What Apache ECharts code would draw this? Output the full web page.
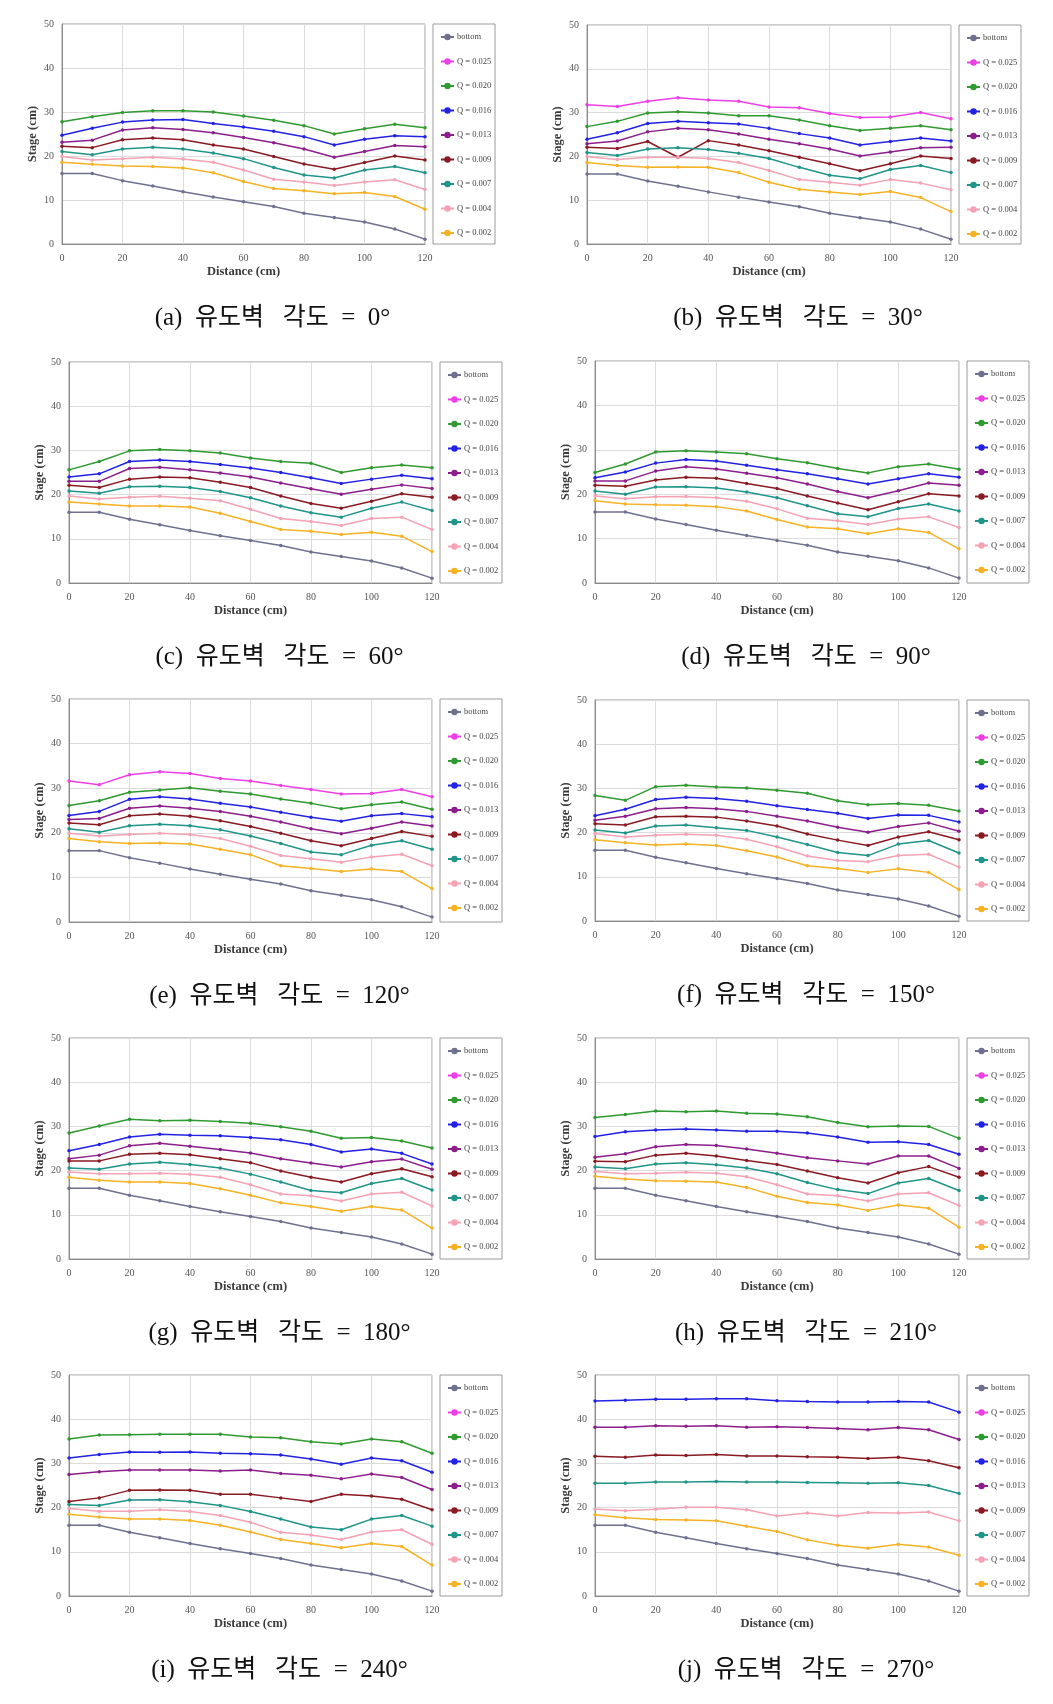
<!DOCTYPE html>
<html><head><meta charset="utf-8">
<script src="https://cdn.jsdelivr.net/npm/echarts@6/dist/echarts.min.js"></script>
<style>html,body{margin:0;padding:0;background:#fff}#c{width:1053px;height:1704px}</style>
</head><body><div id="c"></div>
<script>
// ---------- data ----------
const distance = [0,10,20,30,40,50,60,70,80,90,100,110,120];
const xTicks = [0,20,40,60,80,100,120];
const yTicks = [0,10,20,30,40,50];
const seriesNames = ['bottom','Q = 0.025','Q = 0.020','Q = 0.016','Q = 0.013','Q = 0.009','Q = 0.007','Q = 0.004','Q = 0.002'];
const captions = ['(a)  유도벽   각도  =  0°','(b)  유도벽   각도  =  30°','(c)  유도벽   각도  =  60°','(d)  유도벽   각도  =  90°','(e)  유도벽   각도  =  120°','(f)  유도벽   각도  =  150°','(g)  유도벽   각도  =  180°','(h)  유도벽   각도  =  210°','(i)  유도벽   각도  =  240°','(j)  유도벽   각도  =  270°'];

const bottom = [16,16,14.4,13.2,11.9,10.7,9.6,8.5,7.0,6.0,5.0,3.4,1.1];

// (a) 0°
const a_q025 = null;
const a_q020 = [27.8,28.9,29.9,30.3,30.3,30.0,29.1,28.1,26.9,25.0,26.2,27.2,26.4];
const a_q016 = [24.7,26.3,27.7,28.2,28.3,27.4,26.6,25.6,24.4,22.5,23.8,24.6,24.4];
const a_q013 = [23.1,23.6,25.9,26.4,26.0,25.3,24.2,23.0,21.6,19.7,21.0,22.4,22.1];
const a_q009 = [22.2,21.9,23.7,24.1,23.7,22.5,21.6,19.9,18.2,17.0,18.5,20.0,19.1];
const a_q007 = [21.0,20.3,21.6,22.0,21.6,20.7,19.4,17.4,15.7,15.0,16.8,17.6,16.2];
const a_q004 = [19.9,19.1,19.4,19.7,19.3,18.6,16.8,14.7,14.1,13.3,14.1,14.6,12.4];
const a_q002 = [18.6,18.1,17.7,17.6,17.3,16.2,14.2,12.6,12.1,11.4,11.7,10.8,7.9];
// (b) 30°
const b_q025 = [31.8,31.4,32.6,33.4,32.9,32.6,31.3,31.1,29.8,28.9,29.0,30.0,28.6];
const b_q020 = [26.8,28.0,29.9,30.2,29.9,29.3,29.3,28.3,27.0,25.9,26.4,27.0,26.1];
const b_q016 = [23.9,25.4,27.5,28.0,27.7,27.4,26.4,25.2,24.2,22.6,23.4,24.2,23.5];
const b_q013 = [22.9,23.5,25.6,26.4,26.1,25.1,23.9,22.9,21.7,20.1,21.0,22.0,22.1];
const b_q009 = [22.1,21.8,23.4,19.8,23.6,22.6,21.3,19.8,18.3,16.7,18.3,20.1,19.5];
const b_q007 = [20.9,20.2,21.7,22.0,21.6,20.7,19.5,17.5,15.7,14.9,17.0,17.9,16.3];
const b_q004 = [19.9,19.3,19.8,19.8,19.5,18.6,16.8,14.7,14.1,13.4,14.7,13.9,12.4];
const b_q002 = [18.6,17.9,17.5,17.6,17.5,16.3,14.1,12.5,11.9,11.3,12.0,10.6,7.4];
// (c) 60°
const c_q025 = null;
const c_q020 = [25.6,27.5,29.9,30.2,29.9,29.4,28.3,27.5,27.1,25.0,26.1,26.7,26.1];
const c_q016 = [24.0,24.7,27.5,27.8,27.5,26.8,26.0,25.0,23.8,22.5,23.5,24.4,23.6];
const c_q013 = [23.0,23.0,25.9,26.2,25.6,24.9,24.0,22.6,21.3,20.1,21.2,22.2,21.4];
const c_q009 = [22.1,21.6,23.5,24.0,23.8,22.8,21.6,19.7,18.0,16.9,18.5,20.2,19.4];
const c_q007 = [20.8,20.3,21.8,21.9,21.6,20.7,19.3,17.4,15.9,14.9,16.9,18.3,16.4];
const c_q004 = [19.7,19.0,19.4,19.6,19.2,18.6,16.7,14.6,13.9,13.0,14.6,14.9,12.1];
const c_q002 = [18.3,17.9,17.4,17.4,17.2,15.8,13.9,12.1,11.7,11.0,11.5,10.6,7.1];
// (d) 90°
const d_q025 = null;
const d_q020 = [24.9,26.8,29.5,29.8,29.5,29.1,28.0,27.1,25.8,24.8,26.2,26.8,25.6];
const d_q016 = [23.7,25.0,27.0,27.8,27.5,26.5,25.5,24.6,23.5,22.3,23.5,24.6,23.8];
const d_q013 = [23.0,23.0,25.2,26.2,25.7,24.7,23.7,22.3,20.6,19.2,20.8,22.5,22.0];
const d_q009 = [22.0,21.8,23.2,23.8,23.6,22.4,21.3,19.6,18.0,16.5,18.3,20.1,19.6];
const d_q007 = [20.7,20.0,21.6,21.7,21.4,20.5,19.2,17.4,15.6,14.9,16.8,17.8,16.2];
const d_q004 = [19.6,19.0,19.4,19.5,19.2,18.4,16.7,14.6,14.0,13.2,14.4,14.9,12.5];
const d_q002 = [18.5,17.8,17.6,17.5,17.2,16.2,14.3,12.6,12.2,11.1,12.2,11.4,7.7];
// (e) 120°
const e_q025 = [31.6,30.8,33.0,33.7,33.3,32.2,31.6,30.6,29.7,28.7,28.8,29.7,28.1];
const e_q020 = [26.1,27.2,29.1,29.6,30.1,29.3,28.7,27.6,26.6,25.4,26.3,26.9,25.3];
const e_q016 = [23.9,24.8,27.5,28.1,27.6,26.6,25.8,24.6,23.5,22.6,23.8,24.3,23.6];
const e_q013 = [23.0,23.2,25.5,26.0,25.5,24.8,23.7,22.4,20.9,19.8,21.0,22.4,21.5];
const e_q009 = [22.2,21.8,23.8,24.2,23.7,22.7,21.4,19.9,18.2,17.1,18.7,20.3,19.2];
const e_q007 = [20.9,20.1,21.6,21.9,21.6,20.7,19.3,17.6,15.7,15.1,17.2,18.2,16.3];
const e_q004 = [19.9,19.3,19.6,19.9,19.6,18.7,17.0,14.9,14.2,13.4,14.6,15.2,12.6];
const e_q002 = [18.7,18.0,17.6,17.7,17.5,16.3,15.1,12.6,12.0,11.3,11.9,11.3,7.5];
// (f) 150°
const f_q025 = null;
const f_q020 = [28.4,27.3,30.4,30.7,30.3,30.1,29.6,28.9,27.2,26.3,26.6,26.2,24.9];
const f_q016 = [23.8,25.3,27.5,28.0,27.7,27.1,26.1,25.2,24.4,23.2,24.0,23.9,22.4];
const f_q013 = [22.8,23.7,25.4,25.7,25.4,24.8,23.7,22.6,21.2,20.1,21.4,22.2,20.3];
const f_q009 = [22.0,21.7,23.6,23.7,23.5,22.6,21.5,19.7,18.3,17.1,19.0,20.2,18.4];
const f_q007 = [20.6,19.9,21.5,21.7,21.1,20.5,19.0,17.3,15.5,14.8,17.4,18.2,15.4];
const f_q004 = [19.8,19.0,19.4,19.6,19.4,18.5,16.8,14.7,13.7,13.4,14.8,15.1,12.2];
const f_q002 = [18.4,17.7,17.2,17.4,17.1,15.9,14.5,12.5,11.9,11.0,11.8,11.0,7.1];
// (g) 180°
const g_q025 = null;
const g_q020 = [28.5,30.1,31.6,31.3,31.4,31.1,30.7,29.9,28.9,27.3,27.5,26.7,25.1];
const g_q016 = [24.5,25.9,27.6,28.2,28.0,27.9,27.5,27.0,25.9,24.2,24.9,23.9,21.5];
const g_q013 = [22.7,23.5,25.6,26.2,25.5,24.8,24.0,22.7,21.7,20.8,22.0,22.6,20.3];
const g_q009 = [22.2,22.2,23.7,23.9,23.6,22.7,21.8,19.9,18.5,17.4,19.3,20.4,18.6];
const g_q007 = [20.6,20.3,21.5,21.9,21.4,20.6,19.2,17.4,15.5,15.0,17.1,18.2,15.6];
const g_q004 = [19.7,19.3,19.3,19.4,19.2,18.5,16.8,14.7,14.3,13.1,14.7,15.1,12.0];
const g_q002 = [18.5,17.8,17.4,17.4,17.1,15.9,14.4,12.7,11.9,10.8,11.9,11.1,7.0];
// (h) 210°
const h_q025 = null;
const h_q020 = [32.0,32.7,33.5,33.3,33.5,33.0,32.8,32.2,30.9,29.9,30.1,30.0,27.3];
const h_q016 = [27.7,28.8,29.2,29.4,29.2,28.9,28.9,28.5,27.6,26.4,26.5,25.9,23.7];
const h_q013 = [23.0,23.8,25.4,25.9,25.7,24.9,23.9,22.9,22.2,21.5,23.3,23.3,20.5];
const h_q009 = [22.1,22.0,23.5,23.9,23.3,22.3,21.4,19.9,18.4,17.2,19.5,20.9,18.5];
const h_q007 = [20.8,20.4,21.5,21.8,21.3,20.6,19.3,17.3,15.7,14.8,17.2,18.2,15.5];
const h_q004 = [19.8,19.3,19.4,19.6,19.4,18.6,16.8,14.7,14.3,13.1,14.7,15.0,12.1];
const h_q002 = [18.7,18.1,17.7,17.6,17.4,16.2,14.2,12.8,12.2,11.0,12.2,11.5,7.2];
// (i) 240°
const i_q025 = null;
const i_q020 = [35.5,36.4,36.5,36.6,36.6,36.6,36.0,35.8,34.9,34.4,35.5,34.9,32.3];
const i_q016 = [31.2,32.0,32.6,32.5,32.6,32.3,32.2,31.9,31.0,29.8,31.2,30.6,28.0];
const i_q013 = [27.5,28.1,28.5,28.5,28.5,28.3,28.5,27.7,27.3,26.5,27.6,26.8,24.1];
const i_q009 = [21.4,22.2,23.9,24.0,23.9,23.0,23.0,22.2,21.4,23.0,22.6,21.9,19.5];
const i_q007 = [20.7,20.5,21.7,21.8,21.3,20.5,19.1,17.4,15.6,15.0,17.4,18.2,15.8];
const i_q004 = [19.8,19.2,19.2,19.5,19.1,18.2,16.7,14.4,13.8,12.8,14.5,15.0,11.7];
const i_q002 = [18.5,17.9,17.4,17.4,17.1,16.0,14.5,12.8,11.9,10.9,11.9,11.2,7.0];
// (j) 270°
const j_q025 = null;
const j_q020 = null;
const j_q016 = [44.1,44.3,44.5,44.5,44.6,44.6,44.2,44.0,43.9,43.9,44.0,43.9,41.6];
const j_q013 = [38.2,38.2,38.5,38.4,38.5,38.2,38.3,38.1,37.9,37.6,38.1,37.6,35.4];
const j_q009 = [31.6,31.4,31.9,31.8,32.0,31.7,31.7,31.5,31.4,31.1,31.4,30.6,29.0];
const j_q007 = [25.5,25.5,25.8,25.8,25.9,25.8,25.8,25.7,25.6,25.5,25.6,25.0,23.2];
const j_q004 = [19.7,19.3,19.6,20.1,20.1,19.5,18.1,18.8,18.1,18.9,18.8,19.0,17.0];
const j_q002 = [18.4,17.7,17.3,17.2,17.0,15.8,14.6,12.7,11.5,10.8,11.7,11.1,9.2];

const panels = [
  [bottom,a_q025,a_q020,a_q016,a_q013,a_q009,a_q007,a_q004,a_q002],
  [bottom,b_q025,b_q020,b_q016,b_q013,b_q009,b_q007,b_q004,b_q002],
  [bottom,c_q025,c_q020,c_q016,c_q013,c_q009,c_q007,c_q004,c_q002],
  [bottom,d_q025,d_q020,d_q016,d_q013,d_q009,d_q007,d_q004,d_q002],
  [bottom,e_q025,e_q020,e_q016,e_q013,e_q009,e_q007,e_q004,e_q002],
  [bottom,f_q025,f_q020,f_q016,f_q013,f_q009,f_q007,f_q004,f_q002],
  [bottom,g_q025,g_q020,g_q016,g_q013,g_q009,g_q007,g_q004,g_q002],
  [bottom,h_q025,h_q020,h_q016,h_q013,h_q009,h_q007,h_q004,h_q002],
  [bottom,i_q025,i_q020,i_q016,i_q013,i_q009,i_q007,i_q004,i_q002],
  [bottom,j_q025,j_q020,j_q016,j_q013,j_q009,j_q007,j_q004,j_q002]
];

// ---------- styling / layout ----------
const colors = ['#6f6f90','#ee3ee6','#2f9a30','#2222e4','#8c1e8c','#8a1a22','#1f9488','#f4a2b4','#f5b224'];
const layouts = [
  {l:62, r:425, t:24, b:244},
  {l:587,r:951, t:25, b:244},
  {l:69, r:432, t:362, b:583},
  {l:595,r:959, t:361, b:583},
  {l:69, r:432, t:699, b:922},
  {l:595,r:959, t:700, b:921},
  {l:69, r:432, t:1038,b:1259},
  {l:595,r:959, t:1038,b:1259},
  {l:69, r:432, t:1375,b:1596},
  {l:595,r:959, t:1375,b:1596}
];
const serif = '"Liberation Serif","DejaVu Serif",serif';
const grids=[],xAxes=[],yAxes=[],series=[],legends=[],graphics=[];
layouts.forEach((L,k)=>{
  const h = L.b-L.t;
  grids.push({left:L.l, top:L.t, width:L.r-L.l, height:h, show:true, borderColor:'#9a9a9a', borderWidth:1, containLabel:false});
  xAxes.push({type:'value', gridIndex:k, min:xTicks[0], max:xTicks[xTicks.length-1], interval:20,
    name:'Distance (cm)', nameLocation:'middle', nameGap:21,
    nameTextStyle:{fontFamily:serif, fontSize:12.5, fontWeight:'bold', color:'#3a3a3a'},
    axisLine:{lineStyle:{color:'#8a8a8a'}}, axisTick:{show:false},
    axisLabel:{margin:9, fontFamily:serif, fontSize:10, color:'#555'},
    splitLine:{show:true, lineStyle:{color:'#dcdcdc', width:1}}});
  yAxes.push({type:'value', gridIndex:k, min:yTicks[0], max:yTicks[yTicks.length-1], interval:10,
    name:'Stage (cm)', nameLocation:'middle', nameGap:23, nameRotate:90,
    nameTextStyle:{fontFamily:serif, fontSize:12.5, fontWeight:'bold', color:'#3a3a3a'},
    axisLine:{show:true, lineStyle:{color:'#8a8a8a'}}, axisTick:{show:false},
    axisLabel:{margin:8, fontFamily:serif, fontSize:10, color:'#555'},
    splitLine:{show:true, lineStyle:{color:'#dcdcdc', width:1}}});
  panels[k].forEach((vals,si)=>{
    series.push({type:'line', name:seriesNames[si], xAxisIndex:k, yAxisIndex:k,
      data: vals ? distance.map((x,i)=>[x,vals[i]]) : [],
      symbol:'circle', symbolSize:3.5, showSymbol:true,
      lineStyle:{color:colors[si], width:1.5}, itemStyle:{color:colors[si]},
      animation:false, z:3});
  });
  legends.push({orient:'vertical', left:L.r+15, top:L.t+8, itemGap:14.5, itemWidth:13, itemHeight:8,
    padding:0, data:seriesNames, selectedMode:false,
    textStyle:{fontFamily:serif, fontSize:8.5, lineHeight:10, color:'#444', padding:[0,0,0,-2]}});
  graphics.push({type:'rect', shape:{x:L.r+8, y:L.t, width:62, height:h},
    style:{fill:'none', stroke:'#9a9a9a', lineWidth:1}, silent:true});
  graphics.push({type:'text', x:(L.l+L.r+70)/2 - 6, y:L.b+74,
    style:{text:captions[k], fill:'#111', fontSize:25, fontFamily:'"Liberation Serif","Noto Sans CJK KR",serif', textAlign:'center', textVerticalAlign:'middle'}});
});

const chart = echarts.init(document.getElementById('c'), null, {renderer:'canvas'});
chart.setOption({backgroundColor:'#fff', animation:false, grid:grids, xAxis:xAxes, yAxis:yAxes, series:series, legend:legends, graphic:graphics});
</script></body></html>
